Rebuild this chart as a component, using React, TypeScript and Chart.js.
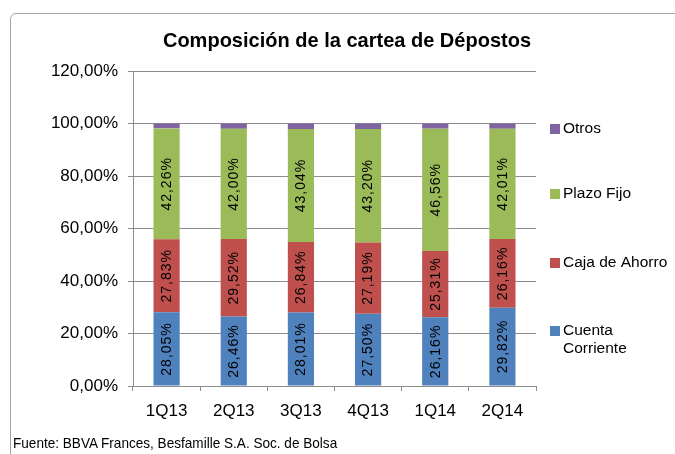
import React, { useEffect, useRef } from "react";
import { Chart, registerables } from "chart.js";

Chart.register(...registerables);

const categories = ["1Q13", "2Q13", "3Q13", "4Q13", "1Q14", "2Q14"];
const cuentaCorriente = [28.05, 26.46, 28.01, 27.5, 26.16, 29.82];
const cajaDeAhorro = [27.83, 29.52, 26.84, 27.19, 25.31, 26.16];
const plazoFijo = [42.26, 42.0, 43.04, 43.2, 46.56, 42.01];
const otros = [1.86, 2.02, 2.11, 2.11, 1.97, 2.01];
const yTickValues = [0, 20, 40, 60, 80, 100, 120];

const seriesNames = ["Cuenta Corriente", "Caja de Ahorro", "Plazo Fijo", "Otros"];
const seriesColors = ["#4F81BD", "#C0504D", "#9BBB59", "#8064A2"];
const titleText = "Composición de la cartea de Dépostos";
const sourceText = "Fuente: BBVA Frances, Besfamille S.A. Soc. de Bolsa";

const fmt = (v: number) => v.toFixed(2).replace(".", ",") + "%";

const FONT = "Arial, 'Liberation Sans', sans-serif";

const titlePlugin = {
  id: "customTitle",
  afterDraw(chart: any) {
    const ctx = chart.ctx;
    ctx.save();
    ctx.font = `bold 21px ${FONT}`;
    ctx.fillStyle = "#000";
    ctx.textAlign = "center";
    ctx.textBaseline = "middle";
    ctx.translate(347, 41);
    ctx.scale(0.953, 1);
    ctx.fillText(titleText, 0, 0);
    ctx.restore();
  },
};

const valueLabelPlugin = {
  id: "valueLabels",
  afterDatasetsDraw(chart: any) {
    const ctx = chart.ctx;
    ctx.save();
    ctx.font = `14px ${FONT}`;
    (ctx as any).letterSpacing = "1px";
    ctx.fillStyle = "#000";
    ctx.textAlign = "center";
    ctx.textBaseline = "middle";
    chart.data.datasets.forEach((ds: any, di: number) => {
      if (di === 3) return;
      const meta = chart.getDatasetMeta(di);
      meta.data.forEach((bar: any, i: number) => {
        const v = ds.data[i];
        const cy = (bar.y + bar.base) / 2;
        ctx.save();
        ctx.translate(bar.x + 0.5, cy);
        ctx.rotate(-Math.PI / 2);
        ctx.fillText(fmt(v), 0, 0);
        ctx.restore();
      });
    });
    ctx.restore();
  },
};

const legendPlugin = {
  id: "customLegend",
  afterDraw(chart: any) {
    const ctx = chart.ctx;
    const centers = [331, 263, 194, 129];
    const boxX = 550;
    const textX = 563;
    const maxW = 108;
    ctx.save();
    ctx.font = `15.5px ${FONT}`;
    ctx.textBaseline = "middle";
    ctx.textAlign = "left";
    chart.data.datasets.forEach((ds: any, di: number) => {
      const words = String(ds.label).split(" ");
      const lines: string[] = [];
      let cur = "";
      words.forEach((w) => {
        const t = cur ? cur + " " + w : w;
        if (cur && ctx.measureText(t).width > maxW) {
          lines.push(cur);
          cur = w;
        } else cur = t;
      });
      lines.push(cur);
      const cy = centers[di];
      ctx.fillStyle = ds.backgroundColor;
      ctx.fillRect(boxX, cy - 5, 10, 10);
      ctx.fillStyle = "#000";
      lines.forEach((ln, li) => ctx.fillText(ln, textX, cy + li * 18));
    });
    ctx.restore();
  },
};

export default function App() {
  const ref = useRef<HTMLCanvasElement | null>(null);

  useEffect(() => {
    document.body.style.margin = "0";
    const seriesData = [cuentaCorriente, cajaDeAhorro, plazoFijo, otros];
    const chart = new Chart(ref.current as HTMLCanvasElement, {
      type: "bar",
      data: {
        labels: categories,
        datasets: seriesData.map((d, i) => ({
          label: seriesNames[i],
          data: d,
          backgroundColor: seriesColors[i],
          borderWidth: 0,
          barPercentage: 0.39,
          categoryPercentage: 1,
        })),
      },
      options: {
        responsive: false,
        animation: false,
        layout: { padding: { left: 0, top: 71, right: 139, bottom: 28 } },
        plugins: {
          legend: { display: false },
          title: { display: false },
          tooltip: { enabled: false },
        },
        scales: {
          x: {
            stacked: true,
            afterFit: (s: any) => {
              s.height = 40;
            },
            grid: {
              display: true,
              drawOnChartArea: false,
              drawTicks: true,
              tickLength: 5,
              color: "#8c8c8c",
              offset: true,
            },
            border: { display: true, color: "#8c8c8c" },
            ticks: {
              color: "#000",
              font: { family: FONT, size: 17 },
              padding: 10,
            },
          },
          y: {
            stacked: true,
            min: 0,
            max: 120,
            afterFit: (s: any) => {
              s.width = 133;
            },
            afterBuildTicks: (s: any) => {
              s.ticks = yTickValues.map((v) => ({ value: v }));
            },
            grid: {
              color: "#8c8c8c",
              tickLength: 5,
            },
            border: { display: true, color: "#8c8c8c" },
            ticks: {
              color: "#000",
              font: { family: FONT, size: 17 },
              padding: 10,
              callback: (v: any) => fmt(Number(v)),
            },
          },
        },
      },
      plugins: [titlePlugin, valueLabelPlugin, legendPlugin],
    });
    return () => chart.destroy();
  }, []);

  return (
    <div style={{ position: "relative", width: 675, height: 454, overflow: "hidden", background: "#fff" }}>
      <div
        style={{
          position: "absolute",
          left: 10,
          top: 13,
          width: 720,
          height: 520,
          border: "1px solid #a6a6a6",
          borderRadius: 6,
        }}
      />
      <canvas ref={ref} width={675} height={454} style={{ position: "absolute", left: 0, top: 0 }} />
      <div
        style={{
          position: "absolute",
          left: 13,
          top: 434,
          fontFamily: "'Liberation Sans Narrow', 'Arial Narrow', sans-serif",
          fontSize: 15,
          color: "#000",
          whiteSpace: "nowrap",
          transform: "scaleX(0.905)",
          transformOrigin: "left center",
        }}
      >
        {sourceText}
      </div>
    </div>
  );
}
